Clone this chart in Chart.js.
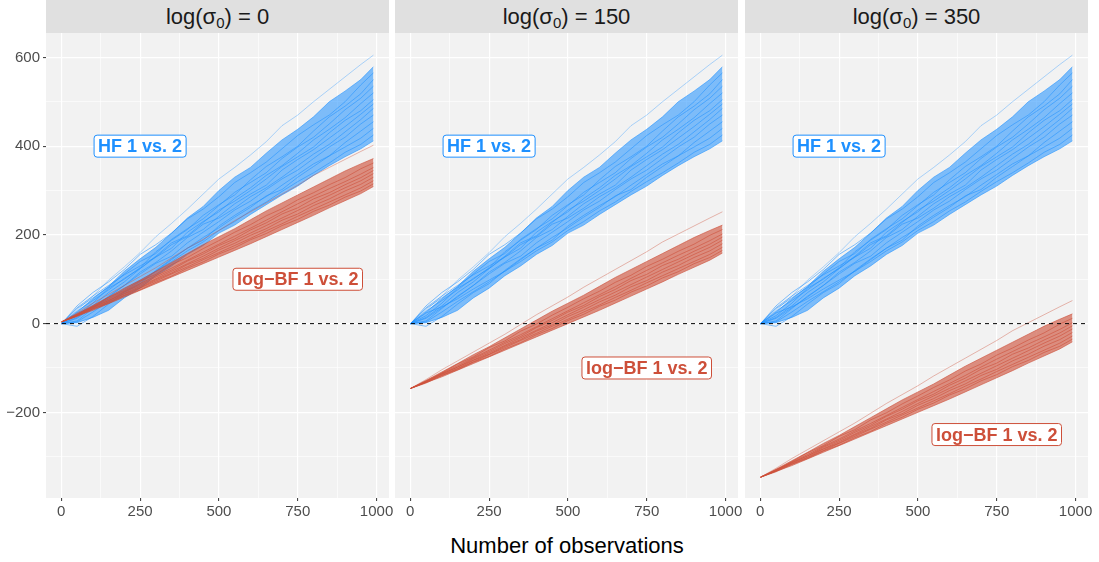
<!DOCTYPE html>
<html>
<head>
<meta charset="utf-8">
<script src="https://cdn.jsdelivr.net/npm/chart.js@4.4.1/dist/chart.umd.min.js"></script>
<style>
body { margin: 0; background: #fff; width: 1099px; height: 562px; position: relative; overflow: hidden; font-family: "Liberation Sans", Arial, sans-serif; }
.strip { position: absolute; top: 0; height: 33px; width: 343px; background: #E0E0E0; color: #1A1A1A; font-size: 22px; line-height: 33px; text-align: center; }
.strip sub { font-size: 15px; line-height: 0; vertical-align: -4px; }
canvas { position: absolute; top: 33px; }
#xtitle { position: absolute; left: 46px; width: 1042px; top: 534px; line-height: 24px; text-align: center; font-size: 22px; color: #000; }
</style>
</head>
<body>
<div class="strip" style="left:46px">log(σ<sub>0</sub>) = 0</div>
<div class="strip" style="left:395px">log(σ<sub>0</sub>) = 150</div>
<div class="strip" style="left:745px">log(σ<sub>0</sub>) = 350</div>
<canvas id="p1" width="409" height="495" style="left:0px"></canvas>
<canvas id="p2" width="363" height="495" style="left:395px"></canvas>
<canvas id="p3" width="354" height="495" style="left:745px"></canvas>
<div id="xtitle">Number of observations</div>
<script>
// Eje x: número de observaciones donde se leyeron las curvas
const xs = [1, 50, 100, 150, 200, 250, 300, 350, 400, 450, 500, 550, 600, 650, 700, 750, 800, 850, 900, 950, 990];

// HF 1 vs. 2 (igual en los tres paneles)
const hf1  = [0, 30, 62, 98, 128, 160, 196, 226, 258, 292, 326, 352, 380, 410, 446, 470, 500, 528, 556, 584, 605];
const hf2  = [0, 26, 56, 84, 118, 146, 172, 204, 238, 264, 300, 330, 352, 384, 414, 438, 466, 500, 524, 550, 579];
const hf3  = [0, 40, 70, 94, 122, 156, 178, 204, 236, 258, 286, 318, 340, 364, 394, 424, 448, 470, 500, 538, 565];
const hf4  = [0, 18, 46, 80, 100, 126, 162, 188, 212, 244, 268, 290, 324, 354, 376, 400, 434, 466, 490, 518, 550];
const hf5  = [0, 34, 58, 82, 112, 140, 158, 190, 214, 236, 266, 296, 318, 340, 372, 398, 420, 450, 482, 508, 535];
const hf6  = [0, 14, 40, 70, 94, 124, 150, 170, 206, 230, 252, 282, 306, 334, 356, 384, 414, 438, 464, 496, 520];
const hf7  = [0, 28, 52, 76, 102, 124, 152, 182, 198, 228, 256, 276, 300, 326, 354, 376, 398, 430, 458, 480, 505];
const hf8  = [0, 6, 34, 62, 86, 116, 138, 164, 194, 212, 242, 270, 292, 312, 346, 370, 392, 418, 444, 472, 495];
const hf9  = [0, 36, 62, 86, 110, 130, 150, 178, 196, 224, 238, 260, 286, 306, 330, 356, 382, 404, 432, 460, 485];
const hf10 = [0, 12, 36, 60, 86, 112, 136, 152, 182, 206, 230, 256, 276, 302, 326, 346, 372, 398, 420, 450, 470];
const hf11 = [0, -6, 16, 44, 70, 90, 120, 146, 170, 188, 220, 244, 266, 286, 312, 336, 360, 378, 408, 434, 455];
const hf12 = [0, 24, 38, 56, 78, 98, 118, 144, 170, 194, 216, 240, 262, 288, 302, 330, 354, 378, 398, 418, 440];
const hf13 = [0, 4, 26, 50, 72, 94, 118, 140, 164, 184, 210, 230, 254, 274, 298, 320, 340, 362, 386, 404, 425];
const hf14 = [0, 2, 14, 30, 58, 80, 108, 130, 156, 176, 204, 222, 246, 268, 290, 310, 334, 356, 376, 394, 412];

// log-BF 1 vs. 2 con log(sigma0) = 0; los otros paneles restan el desplazamiento
const bf1  = [4, 24, 46, 66, 86, 106, 126, 148, 170, 190, 210, 232, 252, 272, 292, 312, 334, 352, 370, 388, 402];
const bf2  = [4, 22, 41, 60, 80, 98, 118, 138, 158, 178, 196, 214, 234, 254, 272, 290, 308, 326, 344, 360, 372];
const bf3  = [4, 20, 39, 59, 75, 96, 111, 133, 149, 169, 187, 206, 223, 243, 259, 279, 295, 313, 329, 349, 362];
const bf4  = [4, 21, 38, 55, 73, 90, 108, 125, 143, 161, 179, 197, 215, 233, 252, 270, 287, 304, 320, 337, 352];
const bf5  = [4, 18, 37, 52, 71, 87, 105, 121, 141, 157, 176, 191, 211, 227, 247, 261, 281, 295, 313, 329, 345];
const bf6  = [4, 20, 36, 52, 68, 84, 101, 118, 135, 152, 170, 187, 204, 221, 238, 255, 272, 289, 306, 322, 338];
const bf7  = [4, 18, 35, 49, 67, 81, 99, 114, 133, 147, 166, 181, 199, 214, 233, 247, 266, 281, 299, 314, 330];
const bf8  = [4, 18, 33, 48, 64, 80, 96, 112, 128, 144, 160, 176, 192, 209, 225, 242, 258, 274, 290, 306, 322];
const bf9  = [4, 16, 33, 46, 63, 76, 93, 107, 125, 139, 157, 171, 189, 203, 221, 235, 253, 267, 285, 299, 315];
const bf10 = [4, 17, 30, 45, 60, 75, 90, 105, 120, 135, 150, 165, 180, 196, 212, 228, 244, 261, 277, 293, 309];

const hfLines = [hf1, hf2, hf3, hf4, hf5, hf6, hf7, hf8, hf9, hf10, hf11, hf12, hf13, hf14];
const bfLines = [bf1, bf2, bf3, bf4, bf5, bf6, bf7, bf8, bf9, bf10];

const sigmaOffsets = [0, 150, 350];

// Ticks (mayores con etiqueta, menores solo rejilla)
const xGrid = [0, 125, 250, 375, 500, 625, 750, 875, 1000];
const yGrid = [-300, -200, -100, 0, 100, 200, 300, 400, 500, 600];

// Posición de las etiquetas [x, y] por panel
const hfLabelPos = [[250, 400], [250, 400], [250, 400]];
const bfLabelPos = [[750, 100], [750, -100], [750, -250]];

const AZUL = 'rgb(30,144,255)';
const ROJO = 'rgb(205,79,57)';
const FUENTE = '"Liberation Sans", Arial, sans-serif';

const fondoPanel = {
    id: 'fondoPanel',
    beforeDraw(chart) {
        const { ctx, chartArea: a } = chart;
        ctx.save();
        ctx.fillStyle = '#F2F2F2';
        ctx.fillRect(a.left, a.top, a.right - a.left, a.bottom - a.top);
        ctx.restore();
    }
};

function etiquetaCaja(ctx, texto, cx, cy, color) {
    ctx.font = 'bold 18px ' + FUENTE;
    const w = ctx.measureText(texto).width + 8;
    const h = 22;
    const x0 = cx - w / 2, y0 = cy - h / 2;
    ctx.beginPath();
    ctx.roundRect(x0, y0, w, h, 3);
    ctx.fillStyle = '#fff';
    ctx.fill();
    ctx.lineWidth = 1;
    ctx.strokeStyle = color;
    ctx.stroke();
    ctx.fillStyle = color;
    ctx.textAlign = 'center';
    ctx.textBaseline = 'middle';
    ctx.fillText(texto, cx, cy + 1);
}

const anotaciones = {
    id: 'anotaciones',
    afterDatasetsDraw(chart, args, opts) {
        const { ctx, chartArea: a, scales } = chart;
        const y0 = scales.y.getPixelForValue(0);
        ctx.save();
        ctx.setLineDash([4, 4]);
        ctx.strokeStyle = '#000';
        ctx.lineWidth = 1;
        ctx.beginPath();
        ctx.moveTo(a.left, y0);
        ctx.lineTo(a.right, y0);
        ctx.stroke();
        ctx.setLineDash([]);
        etiquetaCaja(ctx, 'HF 1 vs. 2', scales.x.getPixelForValue(opts.hf[0]), scales.y.getPixelForValue(opts.hf[1]), AZUL);
        etiquetaCaja(ctx, 'log\u2212BF 1 vs. 2', scales.x.getPixelForValue(opts.bf[0]), scales.y.getPixelForValue(opts.bf[1]), ROJO);
        ctx.restore();
    }
};

function crearPanel(id, k) {
    const primero = k === 0;
    const offset = sigmaOffsets[k];
    const datasets = [];

    // rojo primero para que quede por encima del azul
    bfLines.forEach((linea, i) => {
        datasets.push({
            data: xs.map((x, j) => ({ x: x, y: linea[j] - offset })),
            borderColor: i === 0 ? 'rgba(205,79,57,0.4)' : 'rgba(205,79,57,0.6)',
            backgroundColor: 'rgba(205,79,57,0.62)',
            fill: i === 1 ? bfLines.length - 1 : false,
            borderWidth: 1,
            pointRadius: 0
        });
    });
    hfLines.forEach((linea, i) => {
        datasets.push({
            data: xs.map((x, j) => ({ x: x, y: linea[j] })),
            borderColor: i === 0 ? 'rgba(30,144,255,0.35)' : 'rgba(30,144,255,0.55)',
            backgroundColor: 'rgba(30,144,255,0.55)',
            fill: i === 1 ? bfLines.length + hfLines.length - 1 : false,
            borderWidth: 1,
            pointRadius: 0
        });
    });

    const esMayorX = c => c.tick && c.tick.value % 250 === 0;
    const esMayorY = c => c.tick && c.tick.value % 200 === 0;

    new Chart(document.getElementById(id), {
        type: 'line',
        data: { datasets: datasets },
        options: {
            responsive: false,
            animation: false,
            devicePixelRatio: 1,
            layout: { autoPadding: false, padding: { left: 0, right: k === 2 ? 11 : 20, top: 0, bottom: 0 } },
            plugins: {
                legend: { display: false },
                tooltip: { enabled: false },
                anotaciones: { hf: hfLabelPos[k], bf: bfLabelPos[k] }
            },
            scales: {
                x: {
                    type: 'linear',
                    min: -48.5,
                    max: 1039.5,
                    afterBuildTicks: s => { s.ticks = xGrid.map(v => ({ value: v })); },
                    afterFit: s => { s.height = 30; s.paddingLeft = 0; s.paddingRight = 0; },
                    border: { display: false },
                    grid: {
                        color: '#FFFFFF',
                        lineWidth: c => esMayorX(c) ? 1.2 : 0.6,
                        tickLength: 3,
                        tickWidth: 1,
                        tickColor: c => esMayorX(c) ? '#333333' : 'rgba(0,0,0,0)'
                    },
                    ticks: {
                        autoSkip: false,
                        maxRotation: 0,
                        padding: 2,
                        color: '#4D4D4D',
                        font: { size: 15, family: FUENTE },
                        callback: v => v % 250 === 0 ? String(v) : ''
                    }
                },
                y: {
                    min: -393,
                    max: 655,
                    afterBuildTicks: s => { s.ticks = yGrid.map(v => ({ value: v })); },
                    afterFit: s => { s.width = primero ? 46 : 0; s.paddingTop = 0; s.paddingBottom = 0; },
                    border: { display: false },
                    grid: {
                        color: '#FFFFFF',
                        lineWidth: c => esMayorY(c) ? 1.2 : 0.6,
                        drawTicks: primero,
                        tickLength: 3,
                        tickWidth: 1,
                        tickColor: c => esMayorY(c) ? '#333333' : 'rgba(0,0,0,0)'
                    },
                    ticks: {
                        display: primero,
                        padding: 3,
                        color: '#4D4D4D',
                        font: { size: 15, family: FUENTE },
                        callback: v => v % 200 === 0 ? String(v).replace('-', '\u2212') : ''
                    }
                }
            }
        },
        plugins: [fondoPanel, anotaciones]
    });
}

crearPanel('p1', 0);
crearPanel('p2', 1);
crearPanel('p3', 2);
</script>
</body>
</html>
